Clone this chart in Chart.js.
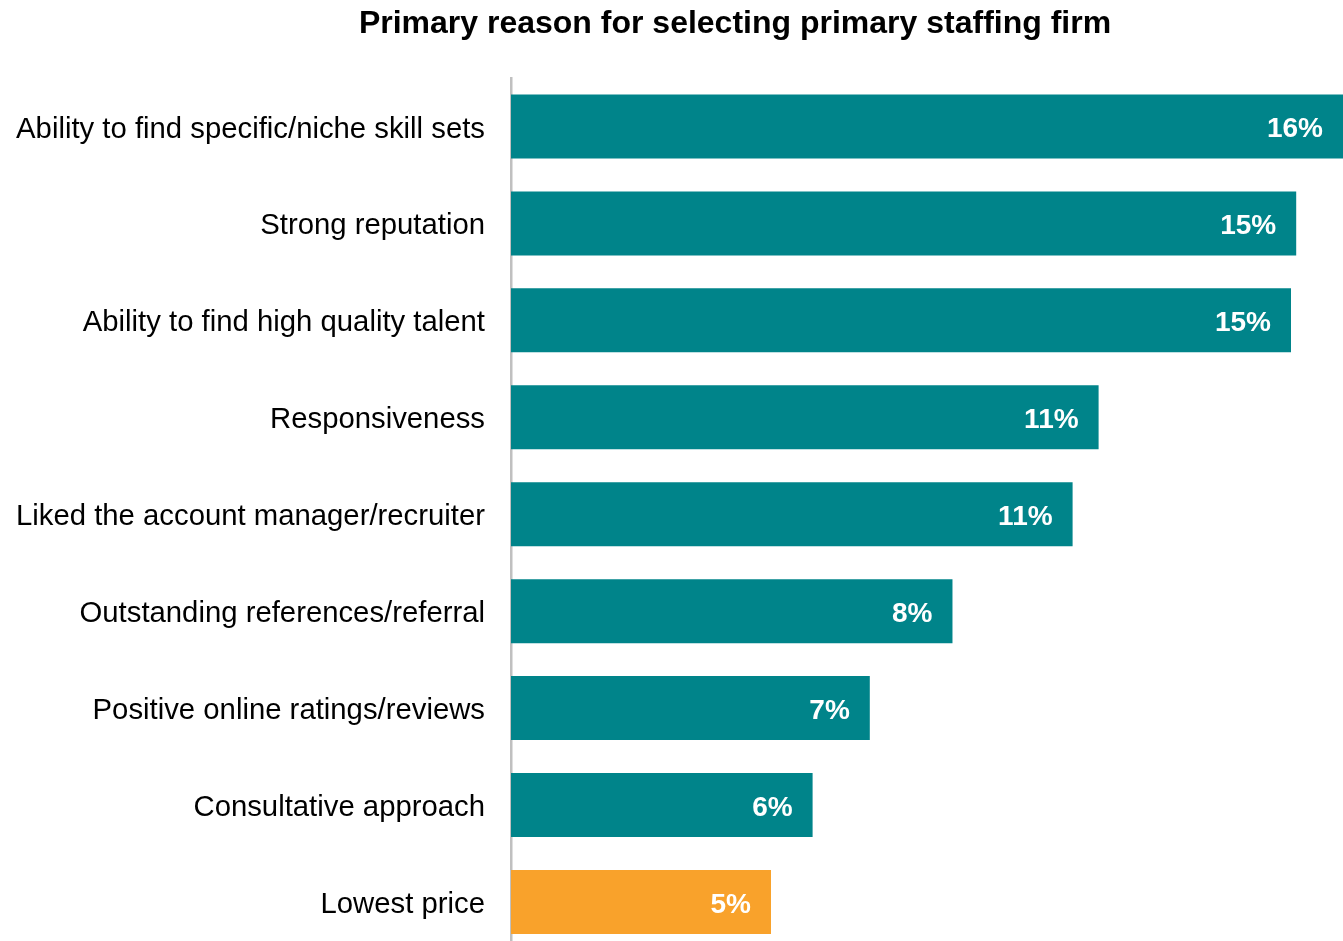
<!DOCTYPE html>
<html>
<head>
<meta charset="utf-8">
<script src="https://cdn.jsdelivr.net/npm/chart.js@4.4.1/dist/chart.umd.min.js"></script>
<style>
  html, body { margin: 0; padding: 0; background: #fff; overflow: hidden; }
  canvas { display: block; }
</style>
</head>
<body>
<canvas id="reasonChart" width="1343" height="994"></canvas>
<script>
// 데이터
const chartTitle = "Primary reason for selecting primary staffing firm";
const reasons = [
  "Ability to find specific/niche skill sets",
  "Strong reputation",
  "Ability to find high quality talent",
  "Responsiveness",
  "Liked the account manager/recruiter",
  "Outstanding references/referral",
  "Positive online ratings/reviews",
  "Consultative approach",
  "Lowest price"
];
const shares = [16.0, 15.1, 15.0, 11.3, 10.8, 8.49, 6.9, 5.8, 5.0];
const barColors = ["#00848A", "#00848A", "#00848A", "#00848A", "#00848A", "#00848A", "#00848A", "#00848A", "#F9A22B"];

// 제목 (플롯 영역 기준 위치)
const titlePlugin = {
  id: "titleText",
  afterDraw(chart) {
    const ctx = chart.ctx;
    ctx.save();
    ctx.font = "bold 32px 'Liberation Sans', Arial, sans-serif";
    ctx.fillStyle = "#000";
    ctx.textAlign = "center";
    ctx.textBaseline = "middle";
    ctx.fillText(chartTitle, 735, 24);
    ctx.restore();
  }
};

// 막대 안쪽 오른쪽 끝에 값 표시
const valueLabels = {
  id: "valueLabels",
  afterDatasetsDraw(chart) {
    const ctx = chart.ctx;
    const meta = chart.getDatasetMeta(0);
    ctx.save();
    ctx.font = "bold 28px 'Liberation Sans', Arial, sans-serif";
    ctx.fillStyle = "#fff";
    ctx.textAlign = "right";
    ctx.textBaseline = "middle";
    meta.data.forEach((bar, i) => {
      ctx.fillText(Math.round(shares[i]) + "%", bar.x - 20, bar.y + 3);
    });
    ctx.restore();
  }
};

const ctx = document.getElementById("reasonChart").getContext("2d");
new Chart(ctx, {
  type: "bar",
  data: {
    labels: reasons,
    datasets: [{
      data: shares,
      backgroundColor: barColors,
      borderWidth: 0,
      barPercentage: 0.66,
      categoryPercentage: 1
    }]
  },
  options: {
    indexAxis: "y",
    responsive: false,
    animation: false,
    layout: { padding: { top: 78, right: 0, bottom: 0, left: 0 } },
    plugins: {
      legend: { display: false },
      tooltip: { enabled: false }
    },
    scales: {
      x: {
        display: false,
        min: 0,
        max: 16.0
      },
      y: {
        afterFit(scale) { scale.width = 511; },
        grid: { display: false, drawTicks: false },
        border: { display: true, color: "#C0C0C0", width: 2.5 },
        ticks: {
          color: "#000",
          padding: 26,
          labelOffset: 3,
          font: { family: "'Liberation Sans', Arial, sans-serif", size: 29.3 }
        }
      }
    }
  },
  plugins: [titlePlugin, valueLabels]
});
</script>
</body>
</html>
